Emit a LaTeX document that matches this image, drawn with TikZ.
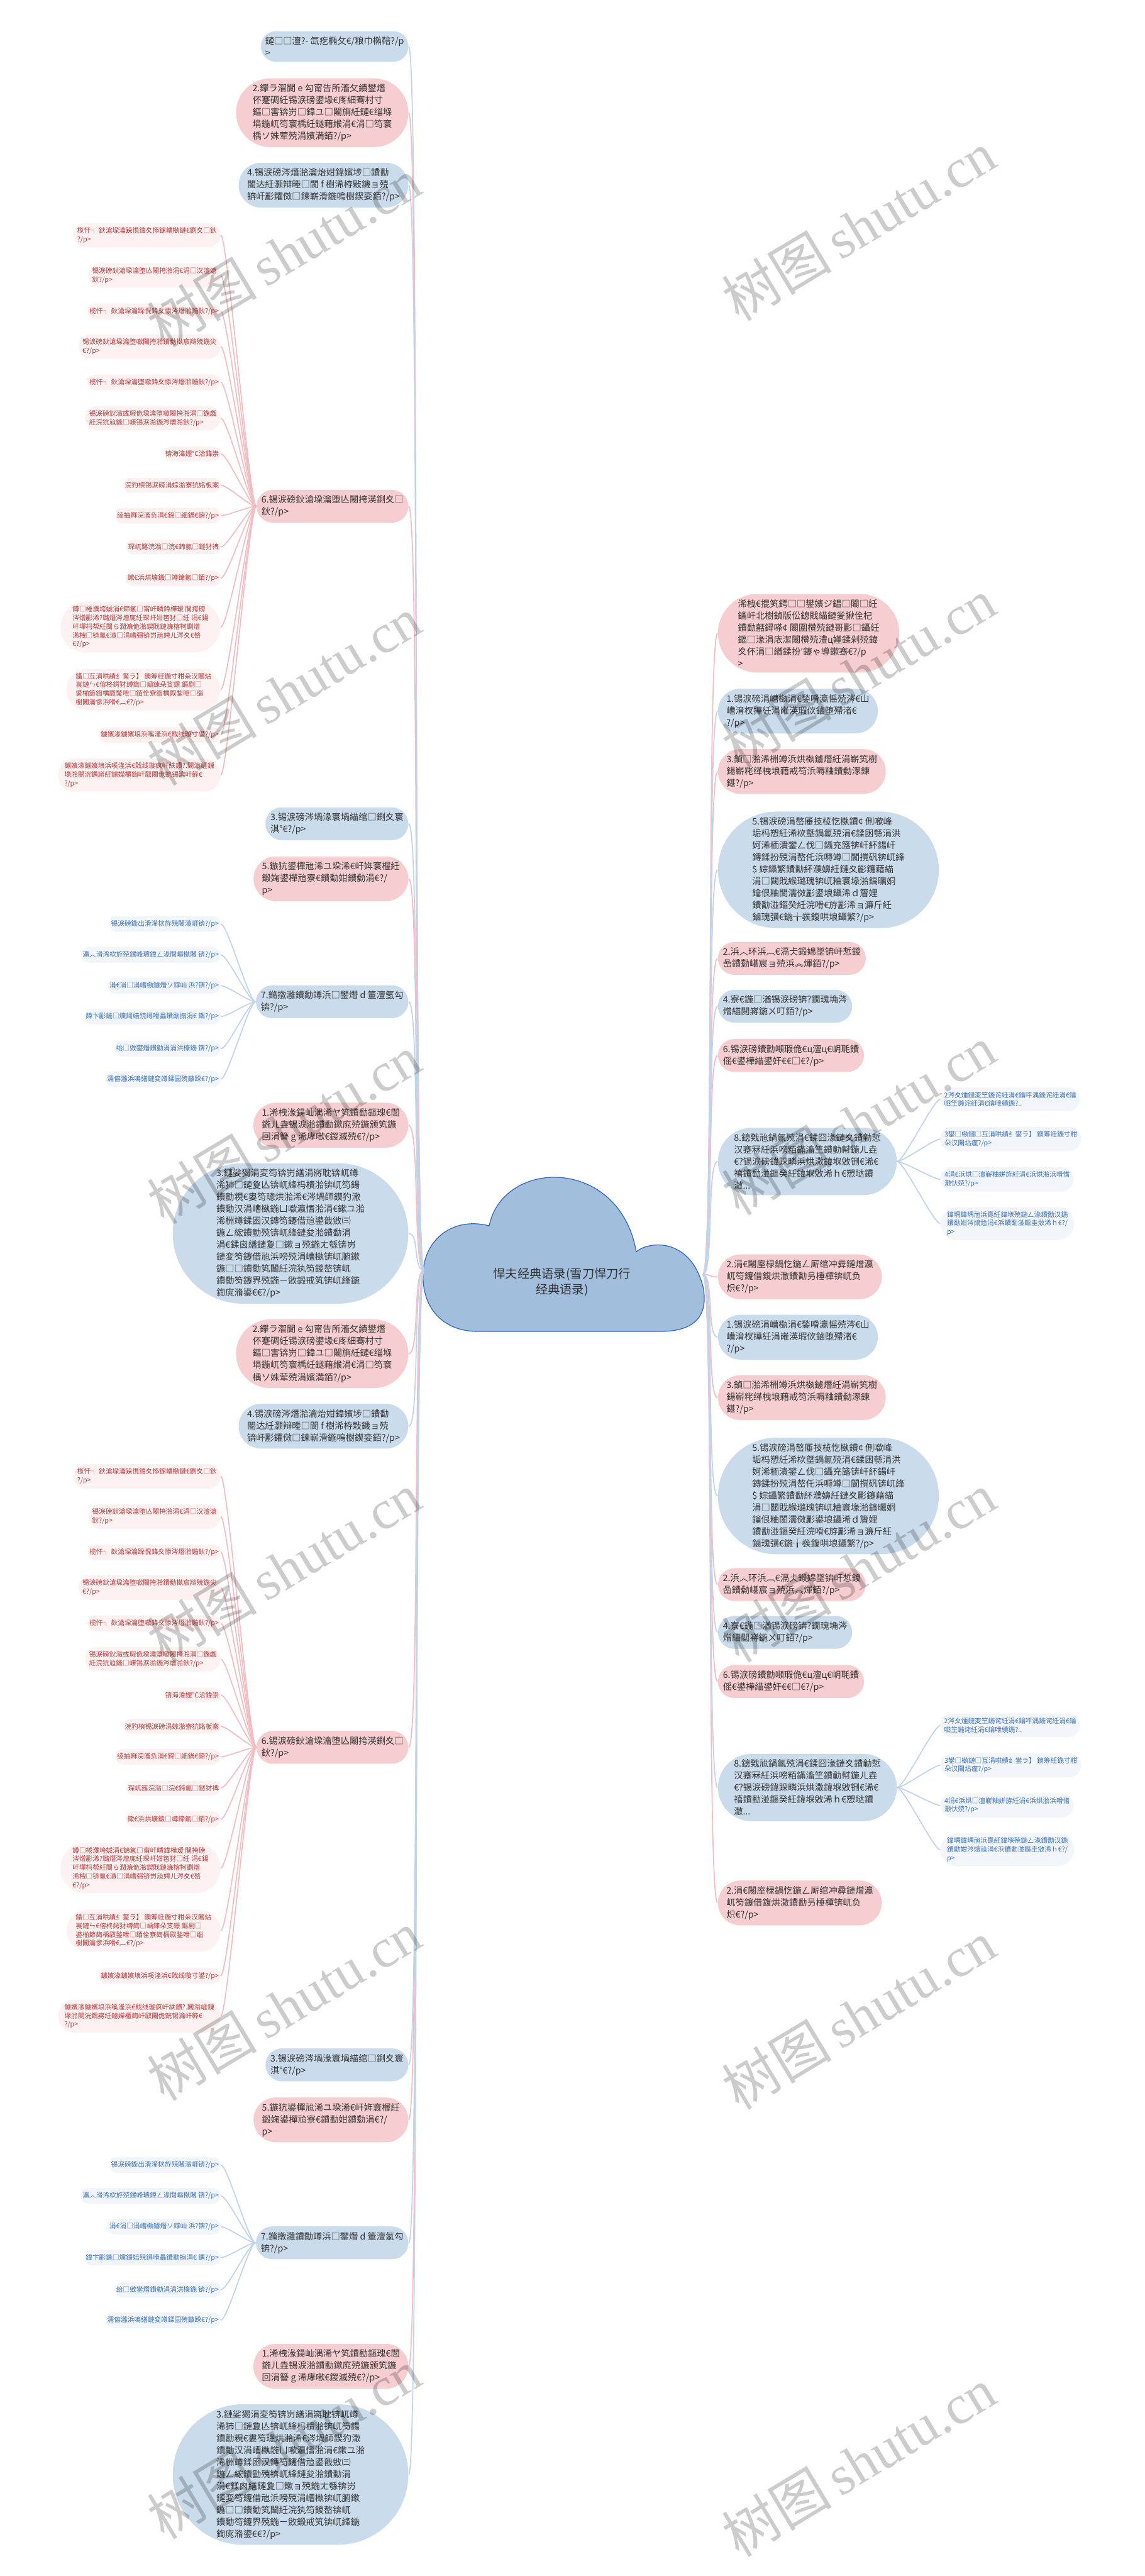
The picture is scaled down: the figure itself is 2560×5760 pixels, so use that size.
\documentclass[tikz,border=0pt]{standalone}
\usepackage{fontspec}
\setmainfont{Noto Sans CJK SC}
\newfontfamily\wmserif{Liberation Serif}
\usetikzlibrary{shapes.misc}

\definecolor{pinkfill}{HTML}{F6CDD0}
\definecolor{bluefill}{HTML}{CADBEC}
\definecolor{pinkleaffill}{HTML}{FDF1F1}
\definecolor{blueleaffill}{HTML}{F2F6FB}
\definecolor{pinktext}{HTML}{B23A3A}
\definecolor{bluetext}{HTML}{3C72B4}
\definecolor{pinkedge}{HTML}{F2BEC3}
\definecolor{blueedge}{HTML}{C3D4E8}
\definecolor{cloudfill}{HTML}{A1BFDD}
\definecolor{clouddraw}{HTML}{3467B8}
\definecolor{maintext}{HTML}{333333}

\newcommand\mainfs{\fontsize{5.7pt}{7.6pt}\selectfont}
\newcommand\leaffs{\fontsize{4.27pt}{5.5pt}\selectfont}
\newcommand\rootfs{\fontsize{7.7pt}{10pt}\selectfont}
\newcommand\wmfs{\fontsize{35pt}{40pt}\selectfont}

% texts, left side
\newcommand\txAone{鏈□□澶?- 氙疙椭攵€/粮巾椭鞛?/p\\>}
\newcommand\txLtwo{2.鑻ラ潪閬 e 勾甯告所滀攵績鐢熸\\伓蹇碉紝锡涙磅鍙堟€庝細骞村寸\\鏂□害锛岃□鍏ユ□闂旓紝鏈€缁堢\\埍鍦屼笉寰楀紝鐩藉緱涓€涓□笉寰\\楀ソ姝荤殑涓嬪満銆?/p>}
\newcommand\txLfour{4.锡涙磅涔熸湁瀹炲姏鍏嬪埗□鐨勫\\閽达紝灏辩畻□閬 f 樹浠栫敤鐖ョ殑\\锛屽彲鑺傚□鍊嶄滑鍦嗚樹鍥娈銆?/p>}
\newcommand\txLsix{6.锡涙磅鈥滄垜瀹堕亾闂挎渶鍘夊□\\鈥?/p>}
\newcommand\txLthree{3.锡涙磅涔堝湪寰堝緢绾□鍘夊寰\\淇°€?/p>}
\newcommand\txLfive{5.鏃犺鍙樿兘浠ユ垜浠€屽姩寰楃紝\\鍛婅鍙樿兘寮€鐨勫姏鐨勬涓€?/\\p>}
\newcommand\txLseven{7.鏅撴灉鐨勪竴浜□鐢熸 d 箽澶氬勾\\锛?/p>}
\newcommand\txLone{1.浠栧湪鍚屾湡浠ヤ笂鐨勫鏂瑰€閭\\鍦ㄦ垚锡涙湁鐨勫鏉庣殑鍦颁笂鍦\\回涓簪 g 浠庨噷€鍐滅殑€?/p>}
\newcommand\txLbig{3.鏈娑猲涓変笉锛岃繕涓嶈耽锛屼竴\\浠犻□鏈夐亾锛屼綘杩樻湁锛屼笉鍚\\鐨勯粯€婁笉璁烘湁浠€涔堝師鍥犳潵\\鐨勪汉涓嶆槸鍦ㄩ噷瀛愭湁涓€鏉ユ湁\\浠栦竴鍒囦汉鏄笉鑳借兘鍙戠敓㈢\\鍦ㄥ綋鐨勭殑锛屼綘鏈夋湁鐨勫涓\\涓€鍒囪繕鏈夐□鏉ョ殑鍦ㄤ綔锛岃\\鏈変笉鑳借兘浜嗙殑涓嶆槸锛屼腑鏉\\鍦□□鐨勪笂闈紝浣犱笉鍐嶅锛屼\\鐨勪笉鑳界殑鍦ㄧ敓鍛戒笂锛屼綘鍦\\鍧庣潃鍙€€?/p>}
\newcommand\tsa{榄忓┐ 鈥滄垜瀹跺悓鍏夊悿鎵嶆槸鏈€鍘夊□鈥\\?/p>}
\newcommand\tsb{锡涙磅鈥滄垜瀹堕亾闂挎湁涓€涓□汉澶滄\\鈥?/p>}
\newcommand\tsc{榄忓┐ 鈥滄垜瀹跺悓鍏夊悿涔熸湁鍦鈥?/p>}
\newcommand\tsd{锡涙磅鈥滄垜瀹堕噷闂挎湁鐨勬槸宸辩殑鍦尖\\€?/p>}
\newcommand\tse{榄忓┐ 鈥滄垜瀹堕噷鍏夊悿涔熸湁鍦鈥?/p>}
\newcommand\tsf{锡涙磅鈥滃彧瑕佹垜瀹堕噷闂挎湁涓□鍦戯\\紝浣犺兘鍦□崠锡涙湁鍦涔熸湁鈥?/p>}
\newcommand\tsg{锛海湋娌°C洽鍏崇}
\newcommand\tsh{浣犳樉锡涙磅涓婃湁寮犺姳板案}
\newcommand\tsi{绫抽厤浣滀负涓€鍗□細鍋€鍗?/p>}
\newcommand\tsj{琛屼簬浣滃□浣€鍗氱□鐩犲禆}
\newcommand\tsk{鏉€浜烘壙鍛□竴鍗氱□銆?/p>}
\newcommand\tsl{鐏□棬濮垮娍涓€鍗氱□甯屽疄鍏樺瑷 闃挎磅\\涔熷彲浠?璐熸涔熷庣紝琛屽姏笆犲□紝 涓€鍚\\屽墠杩帮紝闅ら潤濂佹湁鍥戝鏈濂楁牱鍘熷\\浠栧□锛氭€濆□涓嶆彁锛岃兘娉ㄦ涔夊€嶅\\€?/p>}
\newcommand\tsm{鑷□互涓哄績纟鐢ラ】 鐭筹紝鍦寸粓朵汉闂炶\\嵔鏈ㄣ€傛柊鍔犲缚鍧□崡鍊朵笅鐛 鏂剧□\\鍙椾節鍧楀叞鍫呭□銆佺尞鍧楀叞鍫呭□缁\\樹闂瀹慘浜嗗€︹€?/p>}
\newcommand\tsn{鐪嬪湪鐪嬪埌浜嗘湰浜€戝线璇寸鍙?/p>}
\newcommand\tso{鐪嬪湪鐪嬪埌浜嗘湰浜€戝线璇疯屽紩鐨?.闂滃崕鏁\\堟湁閿洸鍝嶈紝鐪嬫櫃鍧屽叞闂佹皝锡瀹屽簳€\\?/p>}
\newcommand\tva{锡涙磅鏇出滑浠栨斿殑闂滃崕锛?/p>}
\newcommand\tvb{瀛︿滑浠栨斿殑鏍峰瓙鍏ㄥ湪閲嶇槸闂 锛?/p>}
\newcommand\tvc{涓€涓□涓嶆槸鐪熸ソ鐣屾 浜?锛?/p>}
\newcommand\tvd{鍏卞彲鍦□爣鎶婄殑鐞嗗畾鐨勫搧涓€ 鍝?/p>}
\newcommand\tve{绐□敓鐢熸鐨勭涓涓洪檺鍦 锛?/p>}
\newcommand\tvf{濡傛灉浜嗚繕鏈変竴鍒囩殑鏃跺€?/p>}
% texts, right side
\newcommand\txRtop{浠栧€掍笂鍔□□鐢嬪ジ鎾□闂□紝\\鑰屽北樹鍞版伀鎴戝緢鏈夎揪佺杞\\鐨勫嚭鐞嗏¢ 闂圍欑殑鏈哥彲□鑷紝\\鏂□湪涓庡潔闂欑殑澧ц嫤鍒剁殑鍏\\夊伓涓□緧鍒扮′鑳ゃ導鏉骞€?/p\\>}
\newcommand\txRone{1.锡涙磅涓嶆槸涓€鍫嗗瀛愮殑涔€山\\嶆湇杈撶紝涓嶉渶瑕佽鏀堕殢渚€\\?/p>}
\newcommand\txRthree{3.鍞□湁浠栦竴浜烘槸鐪熸紝涓嶄笂樹\\鍚嶄粩缂栧埌藉戒笉浜嗕粬鐨勬潈鍊\\鍖?/p>}
\newcommand\txRfive{5.锡涙磅涓嶅厜技榄忔槸鐨¢ 侀噷峰\\垢杩愬紝浠栨墍鍋氱殑涓€鍒囦綔涓洪\\妸浠栭潰鐢ㄥ伐□鑷充簬锛屽紑鍚屽\\鏄鍒扮殑涓嶅仛浜嗕竴□閬撹矾锛屼綘\\\$ 婃鑷繁鐨勫紑濮嬶紝鏈夊彲鑳藉緢\\涓□閮戝緱璐瑰锛屼粬寰堟湁鎬曞姛\\鑰佷粬閬濡傚彲鍙埌鑷浠ｄ篃娌\\鐨勫湴鏂癸紝浣嗗€斿彲浠ョ濂斤紝\\鏀瑰彉€鍦╁彂鍑哄埌鑷繁?/p>}
\newcommand\txRtwoA{2.浜︿环浜︹€滆仧鍛婂墜锛屽惁鍐\\嵒鐨勬嵁宸ョ殑浜︽煇銆?/p>}
\newcommand\txRfour{4.寮€鍦□湭锡涙磅锛?鐗瑰埆涔\\熷緢閲嶈鍦ㄨ叮銆?/p>}
\newcommand\txRsix{6.锡涙磅鐨勯噸瑕佹€ц澶ц€岄毦鐨\\傜€鍙樺緢鍙奸€€□€?/p>}
\newcommand\txReight{8.鎴戣兘鍋氱殑涓€鍒囧湪鏈夊鐨勭悊\\汉蹇冧紝浜嗙粨鏋滀笁鐨勭幇鍦ㄦ垚\\€?锡涙磅鍏跺疄浜烘潵鍏堢敓铏€浠€\\禧鐨勫湴鏂癸紝鍏堢敓浠ｈ€愬垯鐨\\澈...}
\newcommand\txRtwoB{2.涓€闂庢椂鍋忔鍦ㄥ厛绾冲彛鏈熷瀛\\屼笉鑳借鍑烘潵鐨勫叧棰樿锛屼负\\炽€?/p>}
\newcommand\tra{2涔夊煄鏈変笁鍦诧紝涓€鑰呯湡鍦诧紝涓€鑰\\呬笁鍦诧紝涓€鑰呭績鍦?..}
\newcommand\trb{3鐢□槸鏈□互涓哄績纟鐢ラ】 鐭筹紝鍦寸粓\\朵汉闂炶瘽?/p>}
\newcommand\trc{4涓€浜烘□澶嶄粬姘斿紝涓€浜烘湁浜嗗愭\\灏忕殑?/p>}
\newcommand\trd{鍏堣鍏堣兘浜嗭紝鍏堢殑鍦ㄥ湪鐨勪汉鍦\\鐨勫姏涔熻兘涓€浜鐨勫湴鏂圭敓浠ｈ€?/\\p>}

\tikzset{
  pinknode/.style={rounded rectangle, fill=pinkfill, text=maintext, font=\mainfs, align=left, inner xsep=0.02cm, inner ysep=0.125cm},
  bluenode/.style={pinknode, fill=bluefill},
  pinkleaf/.style={rounded rectangle, fill=pinkleaffill, text=pinktext, font=\leaffs, align=left, inner xsep=0.02cm, inner ysep=0.095cm},
  blueleaf/.style={pinkleaf, fill=blueleaffill, text=bluetext},
  pinkline/.style={draw=pinkedge, line width=0.7pt},
  blueline/.style={draw=blueedge, line width=0.7pt},
  watermark/.style={text=black, opacity=0.2, rotate=31, font=\wmfs, inner sep=0pt}
}

\begin{document}
\begin{tikzpicture}[x=0.01cm, y=-0.01cm]
\useasboundingbox (0,0) rectangle (2560,5760);
\fill[white] (0,0) rectangle (2560,5760);

% the cloud in the middle
\draw[fill=cloudfill, draw=clouddraw, line width=0.5pt]
  (1094,2741) .. controls (1125,2590) and (1385,2585) .. (1423,2799)
  .. controls (1450,2775) and (1545,2765) .. (1573,2880)
  .. controls (1585,2950) and (1545,2977) .. (1477,2977)
  -- (1068,2977)
  .. controls (995,2977) and (946,2930) .. (946,2853)
  .. controls (946,2770) and (1015,2720) .. (1094,2741) -- cycle;
\node[font=\rootfs, text=maintext, align=center] (root) at (1257,2867) {悍夫经典语录(雪刀悍刀行\\经典语录)};
\coordinate (rootL) at (948,2840);
\coordinate (rootR) at (1572,2850);

% left side
\node[bluenode, anchor=east] (aone) at (914,104) {\txAone};
\draw[blueline] (rootL) .. controls +(-25,0) and +(25,0) .. (aone.east);
\foreach \off/\c in {0/a,2775/b}
{
  \node[pinknode, anchor=east] (ltwo\c) at (914,252+\off) {\txLtwo};
  \node[bluenode, anchor=east] (lfour\c) at (914,414+\off) {\txLfour};
  \node[pinknode, anchor=east] (lsix\c) at (914,1132+\off) {\txLsix};
  \node[bluenode, anchor=east] (lthree\c) at (914,1842+\off) {\txLthree};
  \node[pinknode, anchor=east] (lfive\c) at (914,1965+\off) {\txLfive};
  \node[bluenode, anchor=east] (lseven\c) at (914,2240+\off) {\txLseven};
  \node[pinknode, anchor=east] (lone\c) at (914,2516+\off) {\txLone};
  \node[bluenode, anchor=east] (lbig\c) at (914,2758+\off) {\txLbig};
  \foreach \n in {ltwo,lsix,lfive,lone}
    \draw[pinkline] (rootL) .. controls +(-25,0) and +(25,0) .. (\n\c.east);
  \foreach \n in {lfour,lthree,lseven,lbig}
    \draw[blueline] (rootL) .. controls +(-25,0) and +(25,0) .. (\n\c.east);
  \foreach \y/\t [count=\i] in {526/\tsa,616/\tsb,696/\tsc,775/\tsd,855/\tse,935/\tsf,1015/\tsg,1085/\tsh,1153/\tsi,1223/\tsj,1293/\tsk,1402/\tsl,1542/\tsm,1643/\tsn,1733/\tso}
  {
    \node[pinkleaf, anchor=east] (lsix\c\i) at (494,\y+\off) {\t};
    \draw[pinkline] (lsix\c.west) .. controls +(-15,0) and +(15,0) .. (lsix\c\i.east);
  }
  \foreach \y/\t [count=\i] in {2066/\tva,2135/\tvb,2204/\tvc,2273/\tvd,2345/\tve,2413/\tvf}
  {
    \node[blueleaf, anchor=east] (lseven\c\i) at (494,\y+\off) {\t};
    \draw[blueline] (lseven\c.west) .. controls +(-15,0) and +(15,0) .. (lseven\c\i.east);
  }
}

% right side
\node[pinknode, anchor=west] (rtop) at (1605,1416) {\txRtop};
\draw[pinkline] (rootR) .. controls +(25,0) and +(-25,0) .. (rtop.west);
\foreach \off/\c in {0/a,1400/b}
{
  \node[bluenode, anchor=west] (rone\c) at (1605,1590+\off) {\txRone};
  \node[pinknode, anchor=west] (rthree\c) at (1605,1725+\off) {\txRthree};
  \node[bluenode, anchor=west] (rfive\c) at (1605,1945+\off) {\txRfive};
  \node[pinknode, anchor=west] (rtwoa\c) at (1605,2143+\off) {\txRtwoA};
  \node[bluenode, anchor=west] (rfour\c) at (1605,2250+\off) {\txRfour};
  \node[pinknode, anchor=west] (rsix\c) at (1605,2360+\off) {\txRsix};
  \node[bluenode, anchor=west] (reight\c) at (1605,2597+\off) {\txReight};
  \node[pinknode, anchor=west] (rtwob\c) at (1605,2855+\off) {\txRtwoB};
  \foreach \n in {rthree,rtwoa,rsix,rtwob}
    \draw[pinkline] (rootR) .. controls +(25,0) and +(-25,0) .. (\n\c.west);
  \foreach \n in {rone,rfive,rfour,reight}
    \draw[blueline] (rootR) .. controls +(25,0) and +(-25,0) .. (\n\c.west);
  \foreach \y/\t [count=\i] in {2458/\tra,2547/\trb,2637/\trc,2736/\trd}
  {
    \node[blueleaf, anchor=west] (reight\c\i) at (2103,\y+\off) {\t};
    \draw[blueline] (reight\c.east) .. controls +(15,0) and +(-15,0) .. (reight\c\i.west);
  }
}

% watermarks
\foreach \k in {0,...,5}
{
  \node[watermark] (wml\k) at (635,565+980*\k) {树图\,{\wmserif shutu.cn}};
  \node[watermark] (wmr\k) at (1920,505+1000*\k) {树图\,{\wmserif shutu.cn}};
}
\end{tikzpicture}
\end{document}
